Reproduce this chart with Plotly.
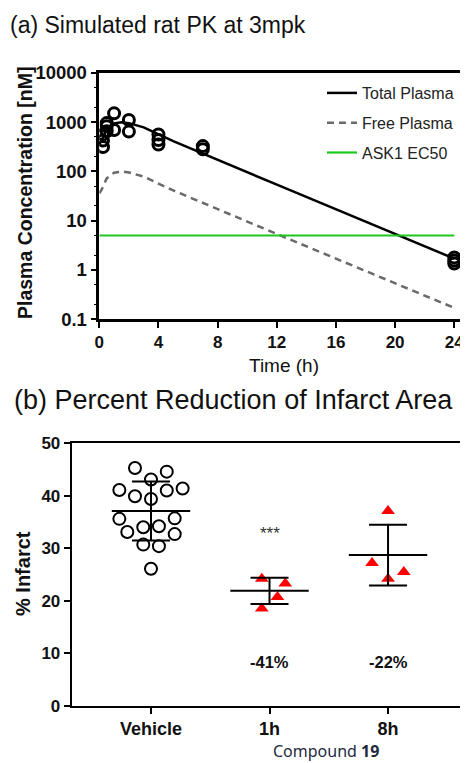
import plotly.graph_objects as go

# ---------------- Panel (a) data ----------------
obs_time = [0.25, 0.25, 0.25, 0.5, 0.5, 0.5, 1, 1, 2, 2, 4, 4, 4, 7, 7, 24, 24, 24]
obs_conc = [310, 420, 560, 650, 820, 950, 1500, 690, 1100, 640, 560, 430, 350, 325, 280, 1.8, 1.55, 1.35]

sim_time = [0, 0.15, 0.5, 1, 1.5, 2, 3, 5, 12.25, 24]
total_plasma = [360, 420, 720, 940, 990, 950, 780, 410, 50, 1.7]
free_plasma = [36, 42, 72, 94, 99, 95, 78, 41, 5, 0.17]

ec50_time = [0, 24]
ec50_conc = [5, 5]

# ---------------- Panel (b) data ----------------
groups = ["Vehicle", "1h", "8h"]
vehicle_vals = [45.3, 44.6, 43.1, 41.1, 41.0, 41.4, 39.9, 39.4, 35.6, 35.7,
                34.0, 34.2, 33.1, 32.7, 30.7, 30.4, 26.1]
vehicle_jit = [-0.135, 0.133, 0, -0.267, 0.133, 0.267, -0.135, 0, -0.267, 0.2,
               -0.065, 0.067, -0.2, 0.2, -0.065, 0.067, 0]
h1_vals = [24.2, 23.3, 20.7, 18.5]
h1_jit = [-0.065, 0.133, 0.067, -0.065]
h8_vals = [37.1, 27.2, 25.5, 24.2]
h8_jit = [0, -0.135, 0.133, 0]
group_mean = [37.1, 21.9, 28.7]
group_sd = [5.6, 2.5, 5.8]
pct_labels = ["", "-41%", "-22%"]
pct_y = 8.4
sig_label = "***"
sig_y = 32.8

FONT = "Liberation Sans, Arial, sans-serif"
BLACK = "#111111"

# the page body adds an 8px margin; size the figure so page pixels map 1:1
OFF = 8
W, H = 468 - OFF, 763 - OFF


def px(x):
    return (x - OFF) / W


def py(y):
    return 1 - (y - OFF) / H


fig = go.Figure()

# Panel (a)
fig.add_trace(go.Scatter(x=sim_time, y=total_plasma, mode="lines", name="Total Plasma",
                         line=dict(color="black", width=2.5), xaxis="x", yaxis="y",
                         legendgroup="a"))
fig.add_trace(go.Scatter(x=sim_time, y=free_plasma, mode="lines", name="Free Plasma",
                         line=dict(color="#6a6a6a", width=2.5, dash="7px,5px"),
                         xaxis="x", yaxis="y", legendgroup="b"))
fig.add_trace(go.Scatter(x=ec50_time, y=ec50_conc, mode="lines", name="ASK1 EC50",
                         line=dict(color="#1ec81e", width=2.2), xaxis="x", yaxis="y",
                         legendgroup="c"))
fig.add_trace(go.Scatter(x=obs_time, y=obs_conc, mode="markers", showlegend=False,
                         marker=dict(symbol="circle-open", size=11, color="black",
                                     line=dict(width=3, color="black")),
                         xaxis="x", yaxis="y"))

# Panel (b)
veh_x = [0 + j for j in vehicle_jit]
h1_x = [1 + j for j in h1_jit]
h8_x = [2 + j for j in h8_jit]
fig.add_trace(go.Scatter(x=veh_x, y=vehicle_vals, mode="markers", showlegend=False,
                         marker=dict(symbol="circle-open", size=12, color="black",
                                     line=dict(width=2, color="black")),
                         xaxis="x2", yaxis="y2"))
fig.add_trace(go.Scatter(x=h1_x + h8_x, y=h1_vals + h8_vals, mode="markers", showlegend=False,
                         marker=dict(symbol="triangle-up", size=12, color="#ff0000"),
                         xaxis="x2", yaxis="y2"))
# SD error bars
fig.add_trace(go.Scatter(x=[0, 1, 2], y=group_mean, mode="markers", showlegend=False,
                         marker=dict(size=1, color="rgba(0,0,0,0)"),
                         error_y=dict(type="data", array=group_sd, visible=True,
                                      color="black", thickness=2, width=19),
                         xaxis="x2", yaxis="y2"))
# mean lines
fig.add_trace(go.Scatter(x=[0, 1, 2], y=group_mean, mode="markers", showlegend=False,
                         marker=dict(symbol="line-ew-open", size=56, color="black",
                                     line=dict(width=2, color="black")),
                         xaxis="x2", yaxis="y2"))

axis_common = dict(showline=True, linecolor="black", ticks="outside", tickcolor="black",
                   tickwidth=2, ticklen=6, showgrid=False, zeroline=False, automargin=False)


def tf(size):
    return dict(family=FONT, size=size, color=BLACK, weight="bold")


fig.update_layout(
    width=W, height=H,
    margin=dict(l=0, r=0, t=0, b=0),
    plot_bgcolor="white", paper_bgcolor="white",
    xaxis=dict(domain=[px(99.3), px(466.7)], range=[0, 24.84],
               tickvals=[0, 4, 8, 12, 16, 20, 24], tickfont=tf(17),
               linewidth=2.5, mirror=True, anchor="y", **axis_common),
    yaxis=dict(domain=[py(319.3), py(72.7)], type="log", range=[-1, 4],
               tickvals=[0.1, 1, 10, 100, 1000, 10000],
               ticktext=["0.1", "1", "10", "100", "1000", "10000"], tickfont=tf(18.5),
               linewidth=2.5, anchor="x",
               minor=dict(ticks="outside", ticklen=3, tickwidth=1.2, tickcolor="black",
                          showgrid=False),
               **axis_common),
    xaxis2=dict(domain=[px(71.7), px(466.5)], range=[-0.669, 2.662], tickvals=[0, 1, 2],
                ticktext=groups, tickfont=tf(18),
                linewidth=2, mirror=True, anchor="y2", **axis_common),
    yaxis2=dict(domain=[py(705.7), py(443.3)], range=[0, 50],
                tickvals=[0, 10, 20, 30, 40, 50], tickfont=tf(17),
                linewidth=2, mirror=True, anchor="x2", **axis_common),
    legend=dict(x=px(322), y=py(76), xanchor="left", yanchor="top",
                bgcolor="rgba(0,0,0,0)", tracegroupgap=6,
                font=dict(family=FONT, size=16, color="#222222")),
    showlegend=True,
)

# faint right border of panel (a)
fig.add_shape(type="line", xref="paper", yref="paper", x0=px(466.7), x1=px(466.7),
              y0=py(319.3), y1=py(72.7), line=dict(color="#c8c8c8", width=1))

ann = []
ann.append(dict(text="(a) Simulated rat PK at 3mpk", xref="paper", yref="paper",
                x=px(8), y=py(25), xanchor="left", yanchor="middle", showarrow=False,
                font=dict(family=FONT, size=23, color=BLACK)))
ann.append(dict(text="(b) Percent Reduction of Infarct Area", xref="paper", yref="paper",
                x=px(12), y=py(400), xanchor="left", yanchor="middle", showarrow=False,
                font=dict(family=FONT, size=27, color=BLACK)))
ann.append(dict(text="Plasma Concentration [nM]", xref="paper", yref="paper",
                x=px(25), y=py(193), xanchor="center", yanchor="middle",
                textangle=-90, showarrow=False,
                font=dict(family=FONT, size=19.5, color=BLACK, weight="bold")))
ann.append(dict(text="Time (h)", xref="paper", yref="paper",
                x=px(284), y=py(365), xanchor="center", yanchor="middle",
                showarrow=False, font=dict(family=FONT, size=19, color=BLACK)))
ann.append(dict(text="% Infarct", xref="paper", yref="paper",
                x=px(23), y=py(574), xanchor="center", yanchor="middle",
                textangle=-90, showarrow=False,
                font=dict(family=FONT, size=20, color=BLACK, weight="bold")))
for i, lab in enumerate(pct_labels):
    if lab:
        ann.append(dict(text=lab, xref="x2", yref="y2", x=i, y=pct_y, showarrow=False,
                        font=dict(family=FONT, size=16.5, color=BLACK, weight="bold")))
ann.append(dict(text=sig_label, xref="x2", yref="y2", x=1, y=sig_y, showarrow=False,
                font=dict(family=FONT, size=17, color="#333333")))
ann.append(dict(text="Compound <b>19</b>", xref="x2", yref="paper", x=1.48, y=py(751),
                xanchor="center", yanchor="middle", showarrow=False,
                font=dict(family="Noto Sans, sans-serif", size=16, color="#1f2a40")))
fig.update_layout(annotations=ann)

fig.write_html("out.html")
